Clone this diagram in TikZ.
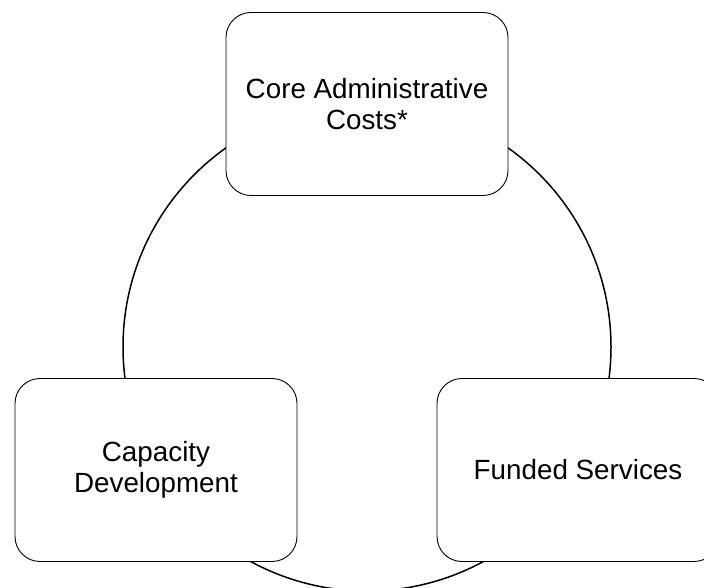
\documentclass[tikz,border=0pt]{standalone}
\usepackage{fontspec}
\setmainfont{Liberation Sans}
\begin{document}
\begin{tikzpicture}[x=1pt, y=-1pt, main/.style = {draw, rectangle, rounded corners=25pt, fill=white, line width=0.9pt, minimum width=282pt, minimum height=183pt, align=center, font=\fontsize{27.8}{30.5}\selectfont}]
        \useasboundingbox (0,0) rectangle (704,588);
        \coordinate (c) at (367,347);
        \draw[line width=1.5pt] (c) circle (244pt);
        \node[main] (1) at (367,104) {Core Administrative\\Costs*};
        \node[main] (2) at (156,470) {Capacity\\Development};
        \node[main] (3) at (578,470) {Funded Services};
    \end{tikzpicture}
\end{document}
